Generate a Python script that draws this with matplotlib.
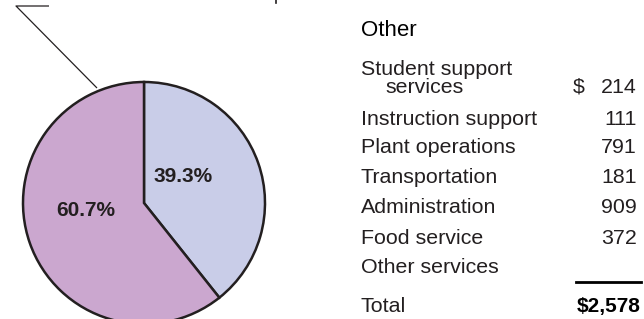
import matplotlib
matplotlib.use("Agg")
import matplotlib.pyplot as plt

# ---- data ----
pie_labels = ["Other", "Remaining"]
pie_shares = [39.3, 60.7]
pie_colors = ["#C9CDE8", "#CBA7CF"]

heading = "Other"
categories = ["Student support\nservices", "Instruction support", "Plant operations",
              "Transportation", "Administration", "Food service", "Other services"]
amounts = [214, 111, 791, 181, 909, 372, None]
total_label = "Total"
total_value = 2578

W, H = 644, 319
DARK = "#231F20"
FONT = ["Liberation Sans", "DejaVu Sans"]
FS = 15.4

fig = plt.figure(figsize=(W / 100, H / 100), dpi=100)
ax = fig.add_axes([0, 0, 1, 1])

def py(y):  # pixel-from-top to data y
    return H - y

cx, cy, r = 144, py(203), 121
wedges, _ = ax.pie(pie_shares, colors=pie_colors, startangle=90, counterclock=False,
                   center=(cx, cy), radius=r,
                   wedgeprops=dict(edgecolor=DARK, linewidth=1.8))
ax.set_xlim(0, W)
ax.set_ylim(0, H)
ax.set_aspect("auto")
ax.axis("off")

# percentage labels
ax.text(183, py(176), f"{pie_shares[0]:.1f}%", ha="center", va="center",
        fontsize=15, fontweight="bold", color=DARK, family=FONT)
ax.text(86, py(211), f"{pie_shares[1]:.1f}%", ha="center", va="center",
        fontsize=15, fontweight="bold", color=DARK, family=FONT)

# leader line
ax.plot([49, 16, 97], [py(6), py(6), py(88)], color=DARK, lw=0.9, solid_capstyle="butt")
# fragment of a cut-off label at the top edge
ax.plot([276, 276], [py(0), py(3)], color=DARK, lw=1.2)

# table
xl, xd, xr = 361, 573, 637
ax.text(xl, py(36), heading, ha="left", va="baseline", fontsize=16, color="black", family=FONT)
baselines = [75, 125, 153, 183, 213, 244, 273]
for i, (cat, amt, yb) in enumerate(zip(categories, amounts, baselines)):
    if "\n" in cat:
        first, second = cat.split("\n")
        ax.text(xl, py(yb), first, ha="left", va="baseline", fontsize=FS, color=DARK,
                family=FONT)
        ax.text(xl + 24, py(yb + 18), second, ha="left", va="baseline", fontsize=FS,
                color=DARK, family=FONT)
        yv = yb + 18
    else:
        ax.text(xl, py(yb), cat, ha="left", va="baseline", fontsize=FS, color=DARK, family=FONT)
        yv = yb
    if amt is not None:
        ax.text(xr, py(yv), f"{amt:,}", ha="right", va="baseline", fontsize=FS, color=DARK,
                family=FONT)
        if i == 0:
            ax.text(xd, py(yv), "$", ha="left", va="baseline", fontsize=FS, color=DARK,
                    family=FONT)

ax.plot([576, 641], [py(282), py(282)], color="black", lw=2)
ax.text(xl, py(312), total_label, ha="left", va="baseline", fontsize=FS, color=DARK, family=FONT)
ax.text(641, py(312), f"${total_value:,}", ha="right", va="baseline", fontsize=15,
        fontweight="bold", color="black", family=FONT)

fig.savefig("out.png", dpi=100)
